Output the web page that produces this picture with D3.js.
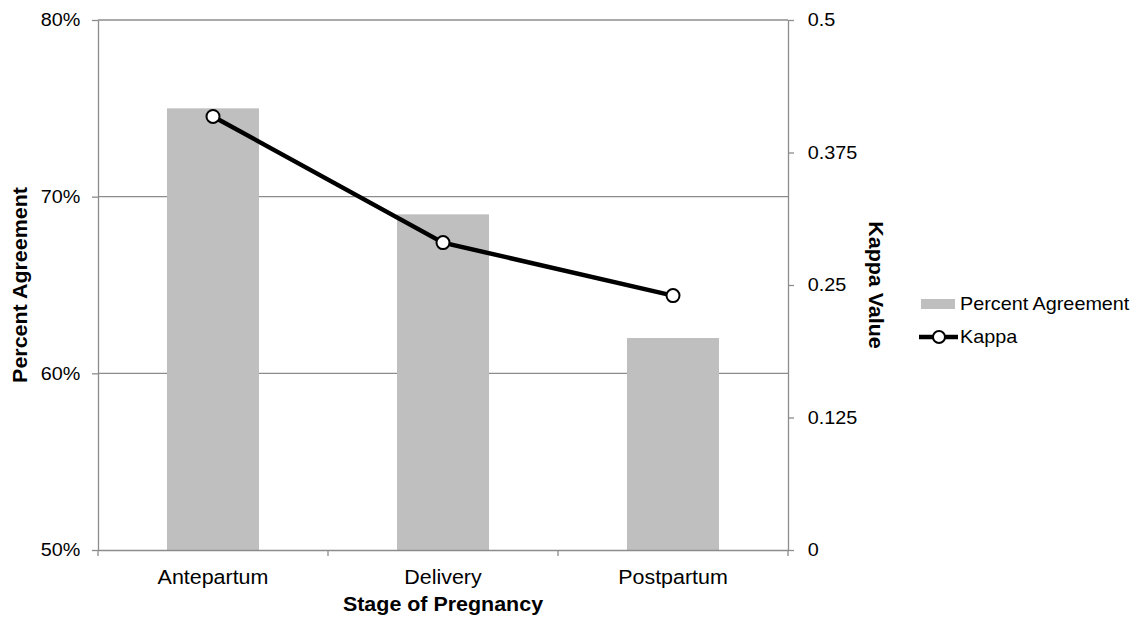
<!DOCTYPE html>
<html lang="en">
<head>
  <meta charset="UTF-8">
  <style>
    body { margin: 0; background: #fff; }
    svg text { font-family: "Liberation Sans", Arial, sans-serif; fill: #000; }
    .grid line { stroke: #8c8c8c; stroke-width: 1.3; }
    .axis path, .axis line { stroke: #8c8c8c; stroke-width: 1.3; }
    .axis text { font-size: 18px; }
    .axis.cat text { font-size: 19.5px; }
    .title { font-size: 19.5px; font-weight: bold; }
    .bar { fill: #bfbfbf; }
    .kappa { fill: none; stroke: #000; stroke-width: 4.5; }
    .dot { fill: #fff; stroke: #000; stroke-width: 2; }
    .legend text { font-size: 18px; }
  </style>
  <script src="https://d3js.org/d3.v7.min.js"></script>
</head>
<body>
<svg id="chart"></svg>
<script>
var stages = ['Antepartum', 'Delivery', 'Postpartum'];
var agreement = [0.75, 0.69, 0.62];
var kappa = [0.409, 0.29, 0.24];
var leftTicks = [0.5, 0.6, 0.7, 0.8];
var rightTicks = [0, 0.125, 0.25, 0.375, 0.5];

var width = 1132, height = 617;
var margin = {top: 20, right: 344, bottom: 67, left: 98};
var stretch = 'scale(1.1,1)'; // the source text is a bit wide

var svg = d3.select('#chart')
  .attr('width', width)
  .attr('height', height);

var x = d3.scaleBand()
  .domain(stages)
  .range([margin.left, width - margin.right]);
var yL = d3.scaleLinear()
  .domain([0.5, 0.8])
  .range([height - margin.bottom, margin.top]);
var yR = d3.scaleLinear()
  .domain([0, 0.5])
  .range([height - margin.bottom, margin.top]);

// horizontal gridlines
svg.append('g')
  .attr('class', 'grid')
  .selectAll('line')
  .data(leftTicks.slice(1))
  .enter()
  .append('line')
  .attr('x1', margin.left)
  .attr('x2', width - margin.right)
  .attr('y1', function(d) { return yL(d); })
  .attr('y2', function(d) { return yL(d); });

// bars
var barW = x.bandwidth() * 0.4;
svg.selectAll('.bar')
  .data(agreement)
  .enter()
  .append('rect')
  .attr('class', 'bar')
  .attr('x', function(d, i) { return x(stages[i]) + (x.bandwidth() - barW) / 2; })
  .attr('width', barW)
  .attr('y', function(d) { return yL(d); })
  .attr('height', function(d) { return yL(0.5) - yL(d); });

// axes
var leftAxis = svg.append('g')
  .attr('class', 'axis')
  .attr('transform', 'translate(' + margin.left + ',0)')
  .call(d3.axisLeft(yL).tickValues(leftTicks).tickFormat(d3.format('.0%')).tickSize(6).tickSizeOuter(0));
leftAxis.selectAll('text').attr('x', -16).attr('transform', stretch);

var rightAxis = svg.append('g')
  .attr('class', 'axis')
  .attr('transform', 'translate(' + (width - margin.right) + ',0)')
  .call(d3.axisRight(yR).tickValues(rightTicks).tickFormat(function(d) { return String(d); }).tickSize(6).tickSizeOuter(0));
rightAxis.selectAll('text').attr('x', 18).attr('transform', stretch);

var bottomAxis = svg.append('g')
  .attr('class', 'axis cat')
  .attr('transform', 'translate(0,' + (height - margin.bottom) + ')')
  .call(d3.axisBottom(x).tickSize(0).tickSizeOuter(0));
bottomAxis.selectAll('text')
  .attr('y', 34)
  .attr('dy', 0)
  .attr('transform', stretch);
// category boundary ticks
bottomAxis.selectAll('.sep')
  .data(stages.concat(['end']))
  .enter()
  .append('line')
  .attr('class', 'sep')
  .attr('x1', function(d, i) { return margin.left + i * x.bandwidth(); })
  .attr('x2', function(d, i) { return margin.left + i * x.bandwidth(); })
  .attr('y1', 0)
  .attr('y2', 6);

// kappa line
var line = d3.line()
  .x(function(d, i) { return x(stages[i]) + x.bandwidth() / 2; })
  .y(function(d) { return yR(d); });

svg.append('path')
  .datum(kappa)
  .attr('class', 'kappa')
  .attr('d', line);

svg.selectAll('.dot')
  .data(kappa)
  .enter()
  .append('circle')
  .attr('class', 'dot')
  .attr('cx', function(d, i) { return x(stages[i]) + x.bandwidth() / 2; })
  .attr('cy', function(d) { return yR(d); })
  .attr('r', 6.5);

// titles
var midY = (margin.top + height - margin.bottom) / 2;
svg.append('text')
  .attr('class', 'title')
  .attr('transform', 'translate(27,' + midY + ') rotate(-90) ' + stretch)
  .attr('text-anchor', 'middle')
  .text('Percent Agreement');

svg.append('text')
  .attr('class', 'title')
  .attr('transform', 'translate(869,' + midY + ') rotate(90) ' + stretch)
  .attr('text-anchor', 'middle')
  .text('Kappa Value');

svg.append('text')
  .attr('class', 'title')
  .attr('transform', 'translate(' + (margin.left + (width - margin.right - margin.left) / 2) + ',611) ' + stretch)
  .attr('text-anchor', 'middle')
  .text('Stage of Pregnancy');

// legend
var legend = svg.append('g')
  .attr('class', 'legend')
  .attr('transform', 'translate(920,0)');

legend.append('rect')
  .attr('x', 1)
  .attr('y', 299)
  .attr('width', 34)
  .attr('height', 10)
  .attr('fill', '#bfbfbf');
legend.append('text')
  .attr('transform', 'translate(40,310) ' + stretch)
  .text('Percent Agreement');

legend.append('line')
  .attr('x1', -1)
  .attr('x2', 38)
  .attr('y1', 337)
  .attr('y2', 337)
  .attr('stroke', '#000')
  .attr('stroke-width', 4.5);
legend.append('circle')
  .attr('class', 'dot')
  .attr('cx', 19)
  .attr('cy', 337)
  .attr('r', 6);
legend.append('text')
  .attr('transform', 'translate(40,343) ' + stretch)
  .text('Kappa');
</script>
</body>
</html>
